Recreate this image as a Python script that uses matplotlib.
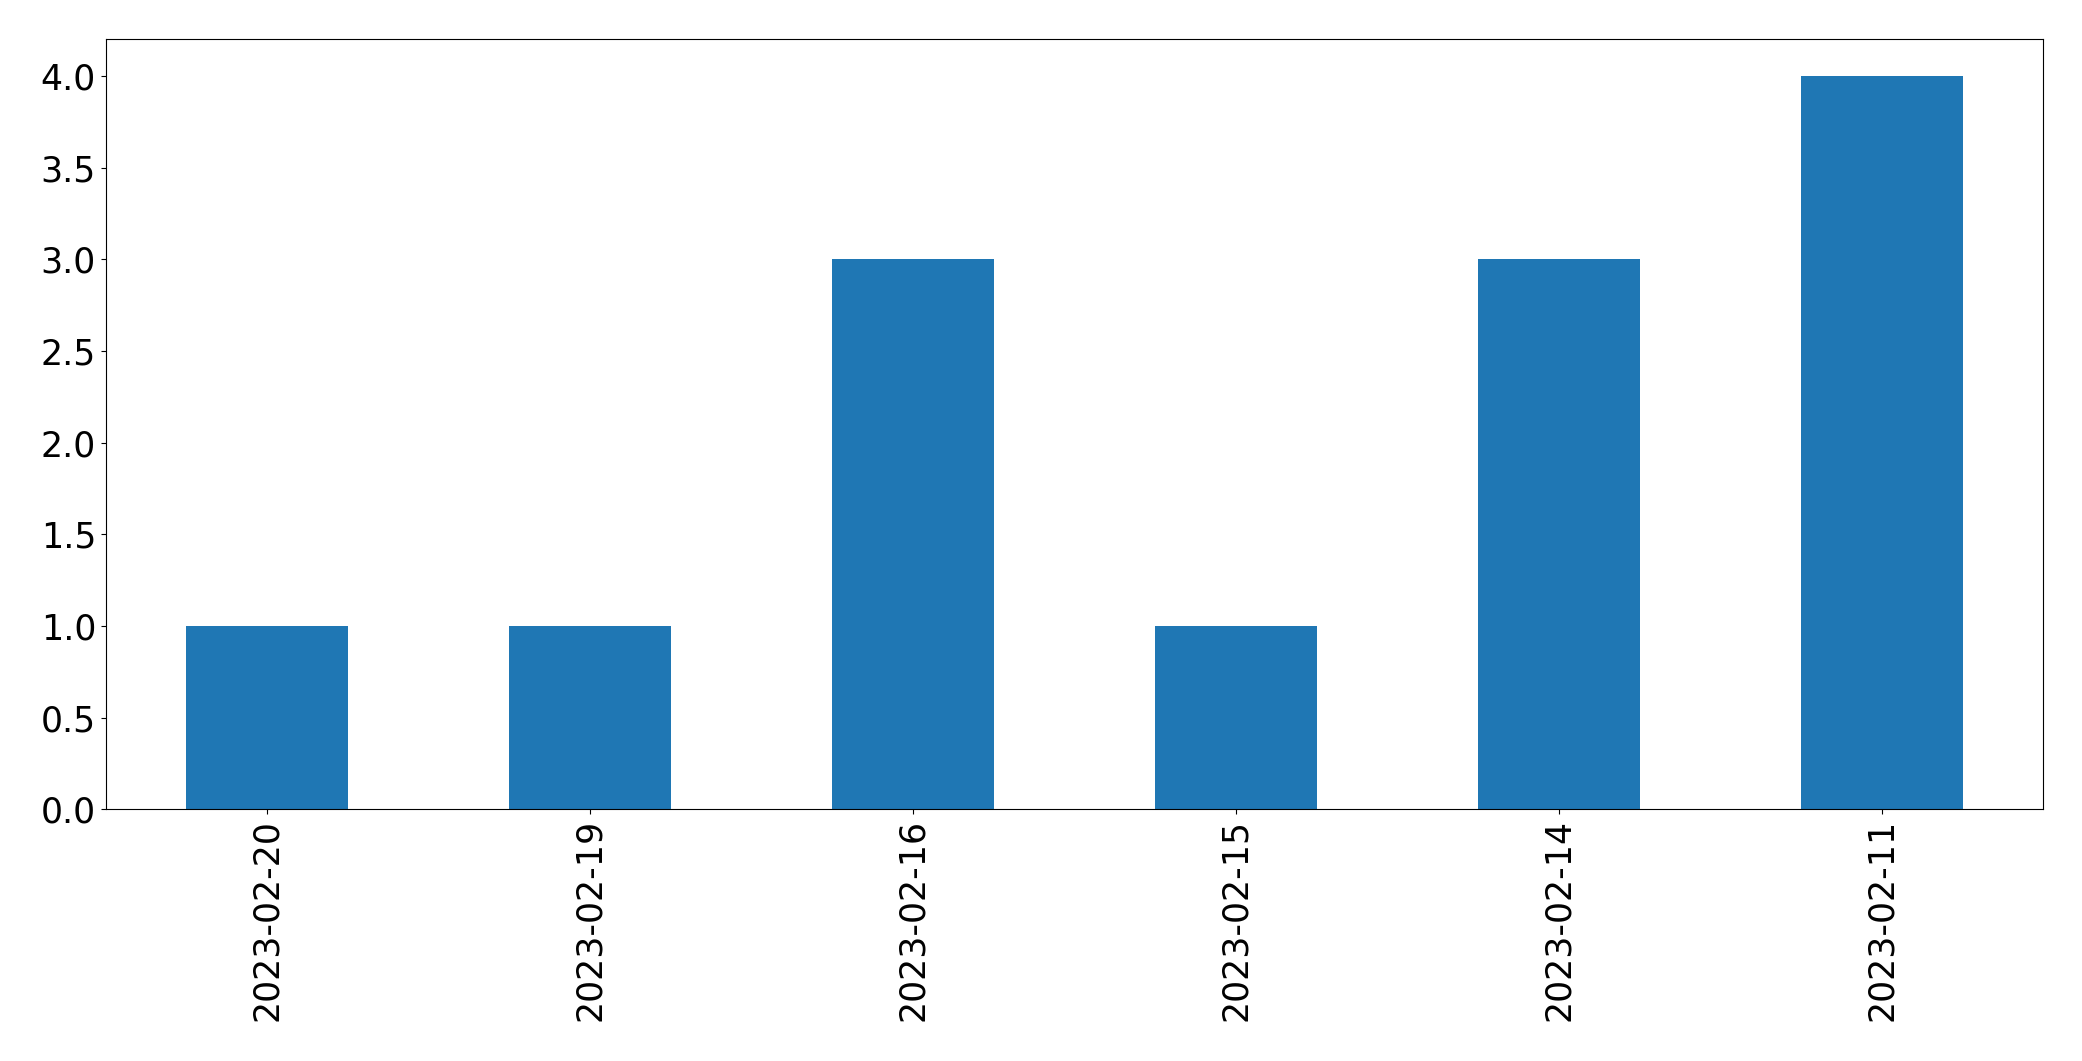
import pandas as pd
import matplotlib
matplotlib.use("Agg")
import matplotlib.pyplot as plt

# conteo por fecha
fechas = ["2023-02-20", "2023-02-19", "2023-02-16", "2023-02-15", "2023-02-14", "2023-02-11"]
conteos = [1, 1, 3, 1, 3, 4]

serie = pd.Series(conteos, index=fechas)

fig, ax = plt.subplots(figsize=(20.82, 10.61), dpi=100)
serie.plot.bar(ax=ax, color="#1f77b4")
ax.tick_params(axis="both", labelsize=25)
fig.subplots_adjust(left=0.0508, right=0.9814, top=0.963, bottom=0.2372)
fig.savefig("out.png", dpi=100)
